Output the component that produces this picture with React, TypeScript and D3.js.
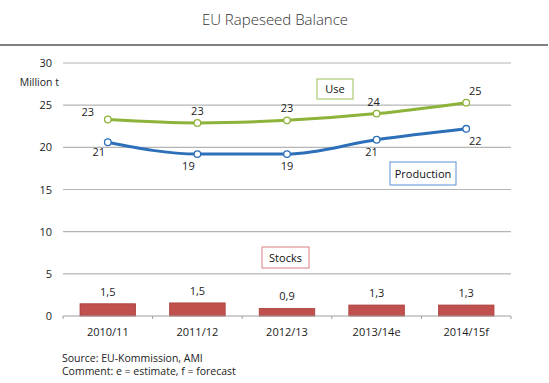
import React from "react";
import * as d3 from "d3";

const categories = ["2010/11", "2011/12", "2012/13", "2013/14e", "2014/15f"];
const useValues = [23.3, 22.9, 23.2, 24.0, 25.3];
const productionValues = [20.6, 19.2, 19.2, 20.9, 22.2];
const stocksValues = [1.45, 1.55, 0.9, 1.3, 1.3];
const stocksLabels = ["1,5", "1,5", "0,9", "1,3", "1,3"];
const useLabels = ["23", "23", "23", "24", "25"];
const productionLabels = ["21", "19", "19", "21", "22"];
const yTicks = [0, 5, 10, 15, 20, 25, 30];

const W = 549;
const H = 383;
const FONT = "'Open Sans', 'Noto Sans', sans-serif";

export default function App() {
  const x = d3.scaleBand<string>().domain(categories).range([63, 511]).paddingInner(0).paddingOuter(0);
  const y = d3.scaleLinear().domain([0, 30]).range([316, 63]);
  const cx = (c: string) => (x(c) as number) + x.bandwidth() / 2;
  const barW = x.bandwidth() * 0.62;

  const line = d3
    .line<number>()
    .x((_, i) => cx(categories[i]))
    .y((d) => y(d))
    .curve(d3.curveMonotoneX);

  const useOff: [number, number][] = [[-20, -4], [0, -8], [0, -8], [-3, -8], [9, -8]];
  const prodOff: [number, number][] = [[-9, 14], [-9, 16], [0, 16], [-5, 16], [9, 16]];

  return (
    <svg width={W} height={H} style={{ position: "absolute", left: 0, top: 0, background: "#fff" }}>
      <rect x={0} y={0} width={W} height={H} fill="#fff" />
      <text x={275} y={25} textAnchor="middle" fontFamily={FONT} fontSize={15} fontWeight={300} fill="#333">
        EU Rapeseed Balance
      </text>
      <line x1={0} x2={548} y1={45} y2={45} stroke="#555" strokeWidth={1.5} />

      {yTicks.map((t) => (
        <g key={t}>
          {t > 0 && <line x1={63} x2={511} y1={y(t)} y2={y(t)} stroke="#b5b5b5" strokeWidth={1.2} />}
          <text x={52} y={y(t) + 4} textAnchor="end" fontFamily={FONT} fontSize={11} fill="#222">
            {t}
          </text>
        </g>
      ))}
      <text x={59} y={86} textAnchor="end" fontFamily={FONT} fontSize={10.5} fill="#222">
        Million t
      </text>

      {categories.map((c, i) => (
        <g key={c}>
          <rect
            x={cx(c) - barW / 2}
            y={y(stocksValues[i])}
            width={barW}
            height={y(0) - y(stocksValues[i])}
            fill="#c0504d"
            stroke="#a93f3c"
            strokeWidth={0.8}
          />
          <text x={cx(c)} y={y(stocksValues[i]) - 8} textAnchor="middle" fontFamily={FONT} fontSize={11} fill="#222">
            {stocksLabels[i]}
          </text>
        </g>
      ))}

      <line x1={63} x2={511} y1={y(0)} y2={y(0)} stroke="#a0a0a0" strokeWidth={1.2} />
      {d3.range(categories.length + 1).map((i) => {
        const xx = 63 + i * x.bandwidth();
        return <line key={i} x1={xx} x2={xx} y1={y(0)} y2={y(0) + 3} stroke="#a0a0a0" strokeWidth={1} />;
      })}
      {categories.map((c) => (
        <text key={c} x={cx(c)} y={336} textAnchor="middle" fontFamily={FONT} fontSize={11} fill="#222">
          {c}
        </text>
      ))}

      <path d={line(useValues) || ""} fill="none" stroke="#8db33a" strokeWidth={3} />
      <path d={line(productionValues) || ""} fill="none" stroke="#2e6fba" strokeWidth={3} />
      {categories.map((c, i) => (
        <g key={"p" + c}>
          <circle cx={cx(c)} cy={y(useValues[i])} r={3.3} fill="#fff" stroke="#8db33a" strokeWidth={1.3} />
          <circle cx={cx(c)} cy={y(productionValues[i])} r={3.3} fill="#fff" stroke="#2e6fba" strokeWidth={1.3} />
          <text
            x={cx(c) + useOff[i][0]}
            y={y(useValues[i]) + useOff[i][1]}
            textAnchor="middle"
            fontFamily={FONT}
            fontSize={11}
            fill="#222"
          >
            {useLabels[i]}
          </text>
          <text
            x={cx(c) + prodOff[i][0]}
            y={y(productionValues[i]) + prodOff[i][1]}
            textAnchor="middle"
            fontFamily={FONT}
            fontSize={11}
            fill="#222"
          >
            {productionLabels[i]}
          </text>
        </g>
      ))}

      <rect x={317} y={79} width={36} height={20} fill="#fff" stroke="#9dbf5e" strokeWidth={1} />
      <text x={335} y={93} textAnchor="middle" fontFamily={FONT} fontSize={11} fill="#111">
        Use
      </text>
      <rect x={390} y={162} width={66} height={23} fill="#fff" stroke="#5b8fd0" strokeWidth={1} />
      <text x={423} y={177.5} textAnchor="middle" fontFamily={FONT} fontSize={11} fill="#111">
        Production
      </text>
      <rect x={262} y={247} width={47} height={21} fill="#fff" stroke="#d88080" strokeWidth={1} />
      <text x={285.5} y={261.5} textAnchor="middle" fontFamily={FONT} fontSize={11} fill="#111">
        Stocks
      </text>

      <text x={62} y={362} fontFamily={FONT} fontSize={10.5} fill="#222">
        Source: EU-Kommission, AMI
      </text>
      <text x={62} y={375} fontFamily={FONT} fontSize={10.5} fill="#222">
        Comment: e = estimate, f = forecast
      </text>
    </svg>
  );
}
